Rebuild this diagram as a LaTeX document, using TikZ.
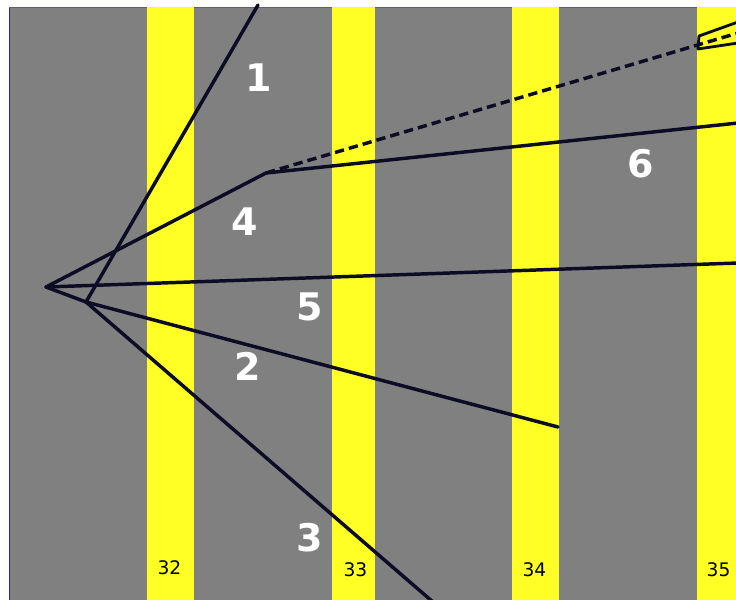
\documentclass[tikz,border=0pt]{standalone}
\usepackage{fontspec}
\setmainfont{DejaVu Sans}
\definecolor{bggray}{RGB}{128,128,128}
\definecolor{stripe}{RGB}{255,255,38}
\definecolor{ink}{RGB}{12,12,36}
\definecolor{edge}{RGB}{40,40,120}
\begin{document}
\begin{tikzpicture}[x=0.75pt,y=-0.75pt,
  lane/.style={fill=stripe,draw=none},
  ray/.style={draw=ink,line width=2.6pt,line cap=round,line join=round},
  dashray/.style={ray,line cap=butt,dash pattern=on 7pt off 3.8pt},
  zone/.style={text=white,font=\bfseries\fontsize{28.5}{30}\selectfont,inner sep=0pt},
  num/.style={text=black,font=\fontsize{14}{16}\selectfont,inner sep=0pt}]
\useasboundingbox (0,0) rectangle (736,600);
\fill[white] (0,0) rectangle (736,600);
\fill[bggray] (9,7) rectangle (736,600);
\draw[edge,line width=1pt] (9.5,7) -- (9.5,600);
\draw[edge!40!bggray,line width=0.6pt] (9,7.3) -- (736,7.3);
% stripes
\fill[lane] (147,7) rectangle (194,600);
\fill[lane] (332,7) rectangle (375,600);
\fill[lane] (512,7) rectangle (559,600);
\fill[lane] (697,7) rectangle (736,600);
% key points
\coordinate (A) at (46,287);
\coordinate (B) at (86,302);
\coordinate (C) at (266,173);
\coordinate (T1) at (258,5);
\coordinate (E3) at (433,602);
\coordinate (E2) at (558,427);
\coordinate (E5) at (738,263);
\coordinate (E6) at (738,123);
\coordinate (E7) at (738,33);
\coordinate (W1) at (699,36);
\coordinate (W2) at (698,49);
\coordinate (W3) at (738,22);
\coordinate (W4) at (738,43);
% rays
\draw[ray] (T1) -- (B) -- (E3);
\draw[ray] (A) -- (B) -- (E2);
\draw[ray] (A) -- (C) -- (E6);
\draw[ray] (A) -- (E5);
\draw[dashray] (C) -- (E7);
\draw[ray,line width=2.1pt] (W3) -- (W1) -- (W2) -- (W4);
% zone labels
\node[zone] (L1) at (259,78) {1};
\node[zone] (L4) at (245,222) {4};
\node[zone] (L5) at (310,307) {5};
\node[zone] (L2) at (248,366) {2};
\node[zone] (L3) at (310,538) {3};
\node[zone] (L6) at (641,164) {6};
% stripe numbers
\node[num] (N32) at (169.5,568) {32};
\node[num] (N33) at (355.5,569.5) {33};
\node[num] (N34) at (534.5,569.5) {34};
\node[num] (N35) at (718.5,569.5) {35};
\end{tikzpicture}
\end{document}
